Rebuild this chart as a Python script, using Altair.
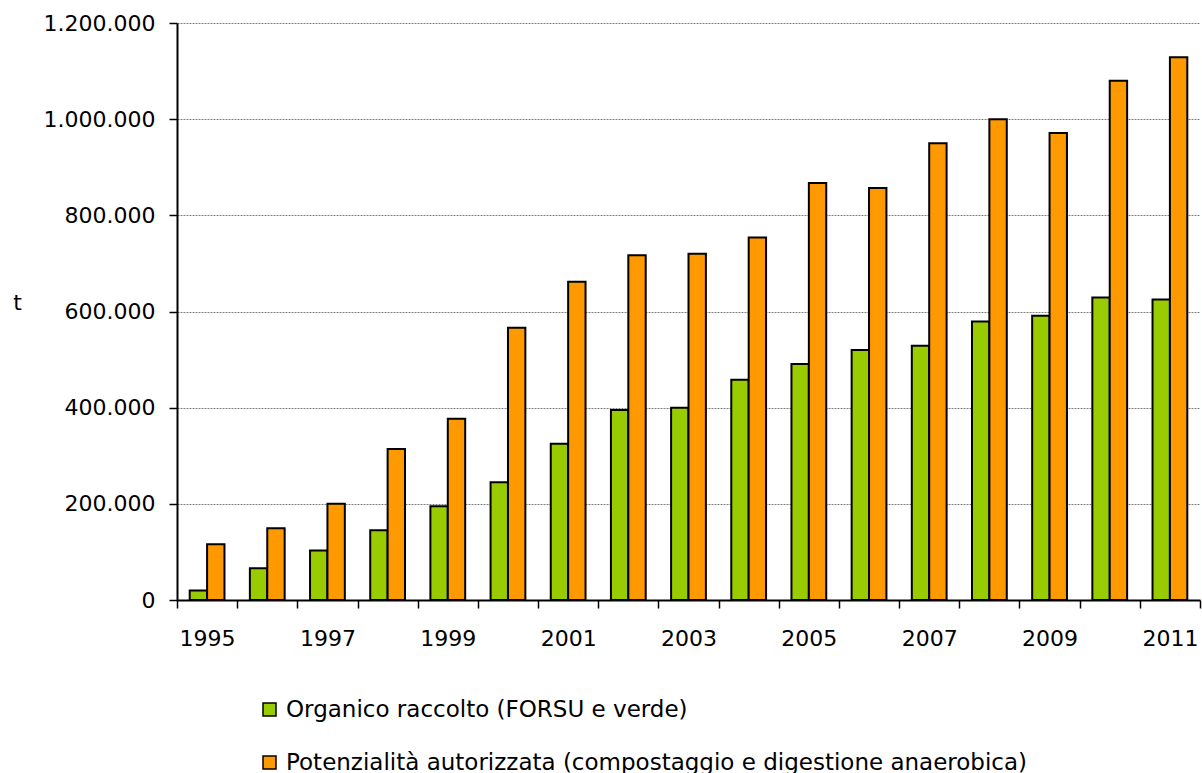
import altair as alt
import pandas as pd

# Anni di riferimento
anni = [str(a) for a in range(1995, 2012)]

# Serie (tonnellate)
serie = [
    "Organico raccolto (FORSU e verde)",
    "Potenzialità autorizzata (compostaggio e digestione anaerobica)",
]
organico = [20000, 66000, 103000, 145000, 195000, 245000, 325000, 395000, 400000,
            458000, 491000, 520000, 529000, 579000, 591000, 629000, 625000]
potenzialita = [116000, 149000, 200000, 314000, 377000, 566000, 662000, 717000, 720000,
                754000, 867000, 857000, 950000, 1000000, 971000, 1080000, 1129000]
colori = ["#99CC00", "#FF9900"]
tick_y = [0, 200000, 400000, 600000, 800000, 1000000, 1200000]

rows = []
for i, a in enumerate(anni):
    rows.append({"anno": a, "serie": serie[0], "valore": organico[i]})
    rows.append({"anno": a, "serie": serie[1], "valore": potenzialita[i]})
df = pd.DataFrame(rows)

FONT = "DejaVu Sans"

chart = (
    alt.Chart(df)
    .mark_bar(stroke="black", strokeWidth=2)
    .encode(
        x=alt.X(
            "anno:N",
            sort=anni,
            scale=alt.Scale(paddingInner=0, paddingOuter=0),
            axis=alt.Axis(
                title=None,
                labelAngle=0,
                tickBand="extent",
                labelExpr="toNumber(datum.value) % 2 == 1 ? datum.label : ''",
                labelOverlap=False,
                labelFont=FONT,
                labelFontSize=22,
                labelColor="black",
                labelPadding=20,
                tickSize=8,
                tickWidth=1.5,
                tickColor="black",
                domainColor="black",
                domainWidth=2,
                grid=False,
            ),
        ),
        xOffset=alt.XOffset(
            "serie:N",
            sort=serie,
            scale=alt.Scale(paddingInner=0, paddingOuter=0.73),
        ),
        y=alt.Y(
            "valore:Q",
            scale=alt.Scale(domain=[0, 1200000], nice=False),
            axis=alt.Axis(
                title="t",
                titleAngle=0,
                titleX=-160,
                titleY=286,
                titleAlign="center",
                titleBaseline="alphabetic",
                titleFont=FONT,
                titleFontSize=22,
                titleFontWeight="normal",
                titleColor="black",
                values=tick_y,
                labelExpr="replace(format(datum.value, ','), regexp(',', 'g'), '.')",
                labelFont=FONT,
                labelFontSize=22,
                labelColor="black",
                labelPadding=14,
                tickSize=8,
                tickWidth=1.5,
                tickColor="black",
                domainColor="black",
                domainWidth=2,
                grid=True,
                gridColor="#808080",
                gridDash=[2, 1],
                gridWidth=1,
            ),
        ),
        color=alt.Color(
            "serie:N",
            sort=serie,
            scale=alt.Scale(domain=serie, range=colori),
            legend=alt.Legend(
                title=None,
                orient="none",
                legendX=81,
                legendY=675,
                direction="vertical",
                symbolType="square",
                symbolSize=169,
                symbolStrokeColor="black",
                symbolStrokeWidth=1.5,
                labelFont=FONT,
                labelFontSize=23,
                labelColor="black",
                labelOffset=5,
                rowPadding=29,
                padding=0,
                labelLimit=900,
            ),
        ),
    )
    .properties(
        width=1023,
        height=577,
        autosize=alt.AutoSizeParams(type="none"),
        padding={"left": 177, "top": 23, "right": 2, "bottom": 173},
    )
    .configure_view(stroke=None)
)

chart.save("out.html", embed_options={"renderer": "svg", "actions": False})
